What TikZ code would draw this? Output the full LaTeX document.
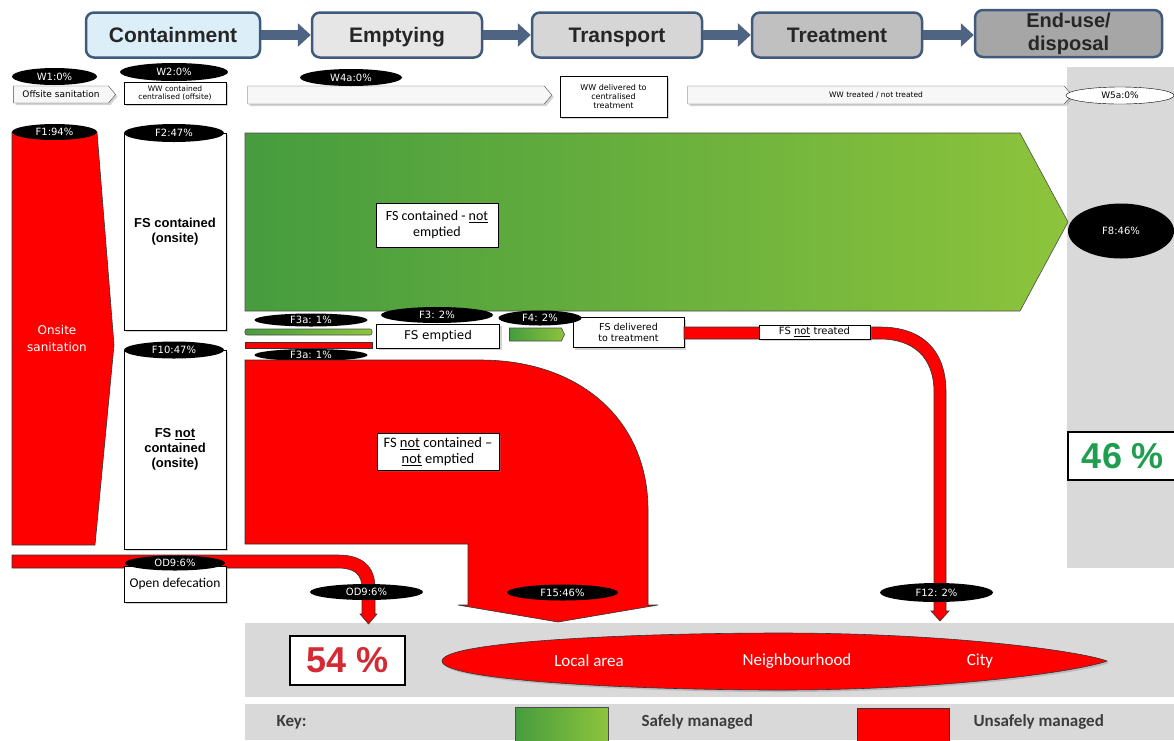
\documentclass[tikz,border=0pt]{standalone}
\usepackage{fontspec}
\setmainfont{DejaVu Sans}
\newfontfamily\arial{Liberation Sans}
\newfontfamily\carl{Carlito}
\usetikzlibrary{shapes.geometric,shapes.symbols,arrows.meta,shadows}
\definecolor{hdrline}{HTML}{3F5A7A}
\definecolor{hdrarrow}{HTML}{4F6482}
\definecolor{sred}{HTML}{FF0000}
\definecolor{gdark}{HTML}{469C3E}
\definecolor{glight}{HTML}{8DC43C}
\definecolor{panel}{HTML}{D9D9D9}
\definecolor{pcred}{HTML}{D42A33}
\definecolor{pcgreen}{HTML}{1F9E50}
\definecolor{keytext}{HTML}{3C3C3C}
\tikzset{
 hdr/.style={draw=hdrline, line width=2.5pt, rounded corners=8pt, minimum height=45pt, inner sep=2pt, text height=17pt, text depth=2pt, font=\arial\bfseries\fontsize{21}{22}\selectfont, align=center, text=black!85},
 hdrarr/.style={draw=hdrarrow, line width=10pt, -{Triangle[length=13pt,width=23pt]}},
 lab/.style={ellipse, fill=black, text=white, inner sep=0pt, font=\fontsize{10}{11}\selectfont},
 shad/.style={drop shadow={shadow xshift=2pt, shadow yshift=-2pt, opacity=0.35}},
 wbox/.style={draw=black, fill=white, inner sep=1pt, align=center, shad},
 warrow/.style={signal, signal to=east, signal pointer angle=100, draw=black!70, fill=gray!6, inner sep=0pt, font=\fontsize{9}{10}\selectfont, shad},
 redfill/.style={fill=sred, draw=black!80, line width=0.6pt},
 greenfill/.style={draw=black!70, line width=0.6pt, left color=gdark, right color=glight},
 keylab/.style={anchor=west, text=keytext, font=\carl\bfseries\fontsize{17}{18}\selectfont},
 arealab/.style={text=white, font=\carl\fontsize{17}{18}\selectfont},
}
\begin{document}
\begin{tikzpicture}[x=1pt,y=-1pt]
\useasboundingbox (0,0) rectangle (1174,740);
% panels
\fill[panel] (1067,67) rectangle (1174,568);
\fill[panel] (245,623) rectangle (1174,697);
\fill[panel] (245,704) rectangle (1174,740);

% header
\node[hdr, fill={rgb,255:red,220;green,238;blue,248}, minimum width=174pt] (hc) at (173,35) {Containment};
\node[hdr, fill={rgb,255:red,230;green,230;blue,230}, minimum width=170pt] (he) at (397,35) {Emptying};
\node[hdr, fill={rgb,255:red,214;green,214;blue,214}, minimum width=170pt] (ht) at (617,35) {Transport};
\node[hdr, fill={rgb,255:red,192;green,192;blue,192}, minimum width=170pt] (htr) at (837,35) {Treatment};
\node[hdr, fill={rgb,255:red,166;green,166;blue,166}, minimum width=187pt, minimum height=47pt, text height=, text depth=, font=\arial\bfseries\fontsize{20}{23}\selectfont] (hd) at (1068.5,33.5) {End-use/\\disposal};
\draw[hdrarr] (hc.east) -- (he.west);
\draw[hdrarr] (he.east) -- (ht.west);
\draw[hdrarr] (ht.east) -- (htr.west);
\draw[hdrarr] (htr.east) -- (htr.east -| hd.west);

% W row
\node[warrow, minimum width=102pt, minimum height=17pt] (os) at (61,94.5) {Offsite sanitation};
\node[lab, minimum width=85pt, minimum height=17pt] (w1) at (54.5,76.5) {W1:0\%};
\node[wbox, minimum width=102pt, minimum height=22pt, inner sep=0pt, font=\fontsize{7.5}{8}\selectfont] (wc) at (175,93) {WW contained\\centralised (offsite)};
\node[lab, minimum width=108pt, minimum height=18pt] (w2) at (174,72) {W2:0\%};
\node[warrow, minimum width=304pt, minimum height=18pt] (a1) at (396,95) {};
\node[lab, minimum width=102pt, minimum height=17pt] (w4) at (351,77.5) {W4a:0\%};
\node[wbox, minimum width=107pt, minimum height=41pt, font=\fontsize{8}{9}\selectfont] (wd) at (613.5,96.5) {WW delivered to\\centralised\\treatment};
\node[warrow, minimum width=384pt, minimum height=18pt, font=\fontsize{7.5}{8}\selectfont] (a2) at (876,95) {WW treated / not treated};
\node[ellipse, draw=black, fill=white, inner sep=0pt, minimum width=108pt, minimum height=17pt, font=\fontsize{9}{10}\selectfont] (w5) at (1120,95.5) {W5a:0\%};

% F1 onsite sanitation
\path[redfill] (12,132) -- (97,132) -- (114,345) -- (95,545) -- (12,545) -- cycle;
\node[text=white, font=\fontsize{12}{17}\selectfont, align=center] (ons) at (57,339) {Onsite\\sanitation};
\node[lab, minimum width=85pt, minimum height=16pt] (f1) at (54.5,132) {F1:94\%};

% F2 / F10 boxes
\node[draw, fill=white, shad, minimum width=102pt, minimum height=197pt, inner sep=0pt, align=center, font=\arial\bfseries\fontsize{13}{15}\selectfont] (f2b) at (175,231.5) {FS contained\\(onsite)};
\node[lab, minimum width=100pt, minimum height=18pt] (f2) at (174,133) {F2:47\%};
\node[draw, fill=white, shad, minimum width=102pt, minimum height=199pt, inner sep=0pt, align=center, font=\arial\bfseries\fontsize{13}{15}\selectfont] (f10b) at (175,449.5) {FS \underline{not}\\contained\\(onsite)};
\node[lab, minimum width=100pt, minimum height=17pt] (f10) at (174,350) {F10:47\%};

% green big arrow
\path[greenfill] (245,133) -- (1020,133) -- (1068,222) -- (1020,311) -- (245,311) -- cycle;
\node[wbox, minimum width=122pt, minimum height=44pt, font=\carl\fontsize{14}{16}\selectfont] (fsc) at (437,225) {FS contained - \underline{not}\\emptied};
\node[lab, minimum width=106pt, minimum height=55pt] (f8) at (1121,231) {F8:46\%};

% F3 row
\path[greenfill, rounded corners=2pt] (245,329) rectangle (372,335);
\path[redfill] (245,342) rectangle (372,348);
\node[lab, minimum width=113pt, minimum height=13pt] (f3a1) at (311,320) {F3a: 1\%};
\node[lab, minimum width=113pt, minimum height=12pt] (f3a2) at (311,355) {F3a: 1\%};
\node[wbox, minimum width=123pt, minimum height=24pt, font=\fontsize{12}{14}\selectfont] (fse) at (438,336) {FS emptied};
\node[lab, minimum width=112pt, minimum height=16pt] (f3) at (437,315) {F3: 2\%};
\node[signal, signal to=east, signal pointer angle=130, greenfill, minimum width=55pt, minimum height=13pt, inner sep=0pt] (g4) at (535.5,334.5) {};
\node[wbox, minimum width=111pt, minimum height=30pt, font=\fontsize{9.5}{11}\selectfont] (fsd) at (628.5,332.5) {FS delivered\\to treatment};
\node[lab, minimum width=83pt, minimum height=15pt] (f4) at (540,318) {F4: 2\%};

% FS not treated pipe
\path[redfill] (684,327) -- (880,327) .. controls (922,327) and (946,350) .. (946,392) -- (946,611) -- (949,611) -- (940,621) -- (931,611) -- (934,611) -- (934,392) .. controls (934,357) and (913,339) .. (880,339) -- (684,339) -- cycle;
\node[wbox, minimum width=111pt, minimum height=14pt, inner sep=0pt, font=\fontsize{10}{11}\selectfont] (fsn) at (814.5,332) {FS \underline{not} treated};
\node[lab, minimum width=113pt, minimum height=19pt] (f12) at (936.5,592.5) {F12: 2\%};

% F15 big red shape
\path[redfill] (245,360) -- (480,360) .. controls (580,360) and (648,420) .. (648,510) -- (648,605) -- (658,605) -- (558,622) -- (458,605) -- (468,605) -- (468,544) -- (245,544) -- cycle;
\node[wbox, minimum width=122pt, minimum height=37pt, font=\carl\fontsize{14.5}{16}\selectfont] (fsnc) at (438,451.5) {FS \underline{not} contained –\\\underline{not} emptied};
\node[lab, minimum width=111pt, minimum height=16pt] (f15) at (562.5,592.5) {F15:46\%};

% open defecation
\path[redfill] (12,555) -- (338,555) .. controls (362,555) and (375,566) .. (375,588) -- (375,614) -- (377,614) -- (368.5,624) -- (360,614) -- (362,614) -- (362,588) .. controls (362,574) and (354,568) .. (338,568) -- (12,568) -- cycle;
\node[wbox, minimum width=102pt, minimum height=36pt, inner sep=0pt, font=\carl\fontsize{13.5}{15}\selectfont] (odb) at (175,584) {Open defecation};
\node[lab, minimum width=100pt, minimum height=15pt] (od1) at (175,563) {OD9:6\%};
\node[lab, minimum width=113pt, minimum height=16pt] (od2) at (366.5,592) {OD9:6\%};

% bottom
\node[draw=black, line width=2pt, fill=white, minimum width=115pt, minimum height=49pt, inner sep=0pt, text=pcred, font=\arial\bfseries\fontsize{36}{36}\selectfont] (p54) at (347.5,660.5) {54 \%};
\path[redfill, shad] (442,661) .. controls (442,641) and (640,633) .. (780,633) .. controls (950,633) and (1080,651) .. (1107,661) .. controls (1080,671) and (950,690) .. (780,690) .. controls (640,690) and (442,681) .. cycle;
\node[arealab] (la) at (589,661) {Local area};
\node[arealab] (nb) at (797,661) {Neighbourhood};
\node[arealab] (ci) at (980,661) {City};
\node[draw=black, line width=2pt, fill=white, minimum width=110pt, minimum height=48pt, inner sep=0pt, text=pcgreen, font=\arial\bfseries\fontsize{36}{36}\selectfont] (p46) at (1123,456) {46 \%};

% key
\node[keylab] (key) at (273,722) {Key:};
\path[greenfill] (515,707) rectangle (608,741);
\node[keylab] (sm) at (638,722) {Safely managed};
\path[redfill] (857,708) rectangle (949,741);
\node[keylab] (um) at (970,722) {Unsafely managed};
\end{tikzpicture}
\end{document}
